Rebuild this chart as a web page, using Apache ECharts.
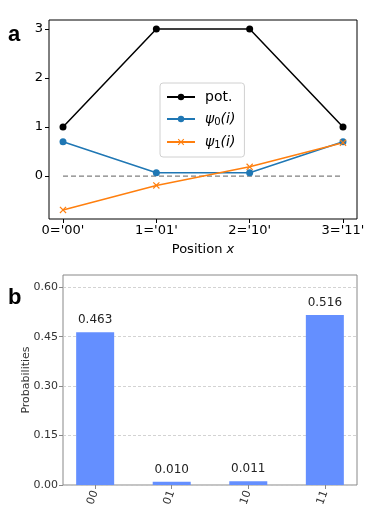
<!DOCTYPE html>
<html>
<head>
<meta charset="utf-8">
<script src="https://cdn.jsdelivr.net/npm/echarts@6/dist/echarts.min.js"></script>
<style>
  html, body { margin: 0; padding: 0; background: #fff; }
  #chart { width: 373px; height: 516px; }
</style>
</head>
<body>
<div id="chart"></div>
<script>
// panel a data
var positions = [0, 1, 2, 3];
var posLabels = ["0='00'", "1='01'", "2='10'", "3='11'"];
var potential = [1, 3, 3, 1];
var psi0 = [0.70, 0.07, 0.07, 0.70];
var psi1 = [-0.69, -0.19, 0.19, 0.68];

// panel b data
var states = ['00', '01', '10', '11'];
var probs = [0.463, 0.010, 0.011, 0.516];
var probTicks = [0, 0.15, 0.30, 0.45, 0.60];

var FONT = 'DejaVu Sans';

function pairs(xs, ys) {
    return xs.map(function (x, i) { return [x, ys[i]]; });
}

var xMark = 'path://M0,1.2L1.2,0L5,3.8L8.8,0L10,1.2L6.2,5L10,8.8L8.8,10L5,6.2L1.2,10L0,8.8L3.8,5Z';

var myChart = echarts.init(document.getElementById('chart'));
var option = {
    animation: false,
    textStyle: { fontFamily: FONT },
    title: [
        { text: 'a', left: 3, top: 19, textStyle: { fontFamily: 'Liberation Sans', fontWeight: 'bold', fontSize: 22, color: '#000' } },
        { text: 'b', left: 3, top: 282, textStyle: { fontFamily: 'Liberation Sans', fontWeight: 'bold', fontSize: 22, color: '#000' } }
    ],
    legend: {
        orient: 'vertical',
        left: 160,
        top: 83,
        data: ['pot.', 'psi0', 'psi1'],
        itemWidth: 28,
        itemHeight: 8,
        itemGap: 8,
        padding: [7, 9, 7, 6],
        backgroundColor: '#fff',
        borderColor: '#d0d0d0',
        borderWidth: 1,
        borderRadius: 3,
        formatter: function (name) {
            if (name === 'psi0') return '{g|}{it|ψ}{sub|0}{it|(i)}';
            if (name === 'psi1') return '{g|}{it|ψ}{sub|1}{it|(i)}';
            return '{g|}{n|pot.}';
        },
        textStyle: {
            color: '#000',
            fontSize: 14,
            rich: {
                g: { width: 5 },
                n: { fontFamily: FONT, fontSize: 14, color: '#000' },
                it: { fontFamily: FONT, fontStyle: 'italic', fontSize: 14, color: '#000' },
                sub: { fontFamily: FONT, fontSize: 10, color: '#000', padding: [6, 0, 0, 0] }
            }
        }
    },
    grid: [
        { left: 49, top: 20, width: 308, height: 199, show: true, borderColor: '#000', borderWidth: 1, backgroundColor: 'transparent' },
        { left: 63, top: 275, width: 294, height: 210, show: true, borderColor: '#888', borderWidth: 1, backgroundColor: 'transparent' }
    ],
    xAxis: [
        {
            gridIndex: 0,
            type: 'value',
            min: -0.15,
            max: 3.15,
            name: '{n|Position }{i|x}',
            nameLocation: 'middle',
            nameGap: 24,
            nameTextStyle: {
                rich: {
                    n: { fontFamily: FONT, fontSize: 13, color: '#000' },
                    i: { fontFamily: FONT, fontSize: 13, fontStyle: 'italic', color: '#000' }
                }
            },
            axisLine: { show: false, onZero: false },
            axisTick: { show: true, length: 4, customValues: positions, lineStyle: { color: '#000' } },
            axisLabel: {
                customValues: positions,
                fontSize: 13, color: '#000', margin: 5,
                formatter: function (v) { return posLabels[positions.indexOf(v)]; }
            },
            splitLine: { show: false }
        },
        {
            gridIndex: 1,
            type: 'value',
            min: -0.42,
            max: 3.42,
            axisLine: { show: false, onZero: false },
            axisTick: { show: true, length: 4, customValues: positions, lineStyle: { color: '#888' } },
            axisLabel: {
                customValues: positions,
                fontSize: 11, color: '#333', rotate: 70, margin: 6,
                formatter: function (v) { return states[v]; }
            },
            splitLine: { show: false }
        }
    ],
    yAxis: [
        {
            gridIndex: 0,
            type: 'value',
            min: -0.875,
            max: 3.185,
            axisLine: { show: false, onZero: false },
            axisTick: { show: true, length: 4, customValues: [0, 1, 2, 3], lineStyle: { color: '#000' } },
            axisLabel: { customValues: [0, 1, 2, 3], fontSize: 13, color: '#000', margin: 6 },
            splitLine: { show: false }
        },
        {
            gridIndex: 1,
            type: 'value',
            min: 0,
            max: 0.637,
            name: 'Probabilities',
            nameLocation: 'middle',
            nameGap: 31,
            nameMoveOverlap: false,
            nameTextStyle: { fontSize: 11, color: '#333' },
            axisLine: { show: false, onZero: false },
            axisTick: { show: true, length: 4, customValues: probTicks, lineStyle: { color: '#888' } },
            axisLabel: {
                customValues: probTicks,
                fontSize: 11, color: '#333', margin: 5,
                formatter: function (v) { return v.toFixed(2); }
            },
            splitLine: { show: true, customValues: probTicks, lineStyle: { color: '#c8c8c8', type: [3, 2], width: 0.8 } }
        }
    ],
    series: [
        {
            name: 'zero',
            type: 'line',
            xAxisIndex: 0, yAxisIndex: 0,
            data: [[positions[0], 0], [positions[3], 0]],
            showSymbol: false,
            lineStyle: { color: '#808080', width: 1.3, type: [5, 3] },
            z: 1
        },
        {
            name: 'pot.',
            type: 'line',
            xAxisIndex: 0, yAxisIndex: 0,
            data: pairs(positions, potential),
            symbol: 'circle', symbolSize: 7,
            color: '#000',
            lineStyle: { color: '#000', width: 1.5 },
            itemStyle: { color: '#000' }
        },
        {
            name: 'psi0',
            type: 'line',
            xAxisIndex: 0, yAxisIndex: 0,
            data: pairs(positions, psi0),
            symbol: 'circle', symbolSize: 7,
            color: '#1f77b4',
            lineStyle: { color: '#1f77b4', width: 1.5 },
            itemStyle: { color: '#1f77b4' }
        },
        {
            name: 'psi1',
            type: 'line',
            xAxisIndex: 0, yAxisIndex: 0,
            data: pairs(positions, psi1),
            symbol: xMark, symbolSize: 7,
            color: '#ff7f0e',
            lineStyle: { color: '#ff7f0e', width: 1.5 },
            itemStyle: { color: '#ff7f0e' }
        },
        {
            name: 'probs',
            type: 'bar',
            xAxisIndex: 1, yAxisIndex: 1,
            data: pairs(positions, probs),
            barWidth: 38,
            itemStyle: { color: '#648fff' },
            label: {
                show: true,
                position: 'top',
                distance: 6,
                fontSize: 12,
                color: '#222',
                formatter: function (p) { return p.value[1].toFixed(3); }
            }
        }
    ]
};
myChart.setOption(option);
</script>
</body>
</html>
